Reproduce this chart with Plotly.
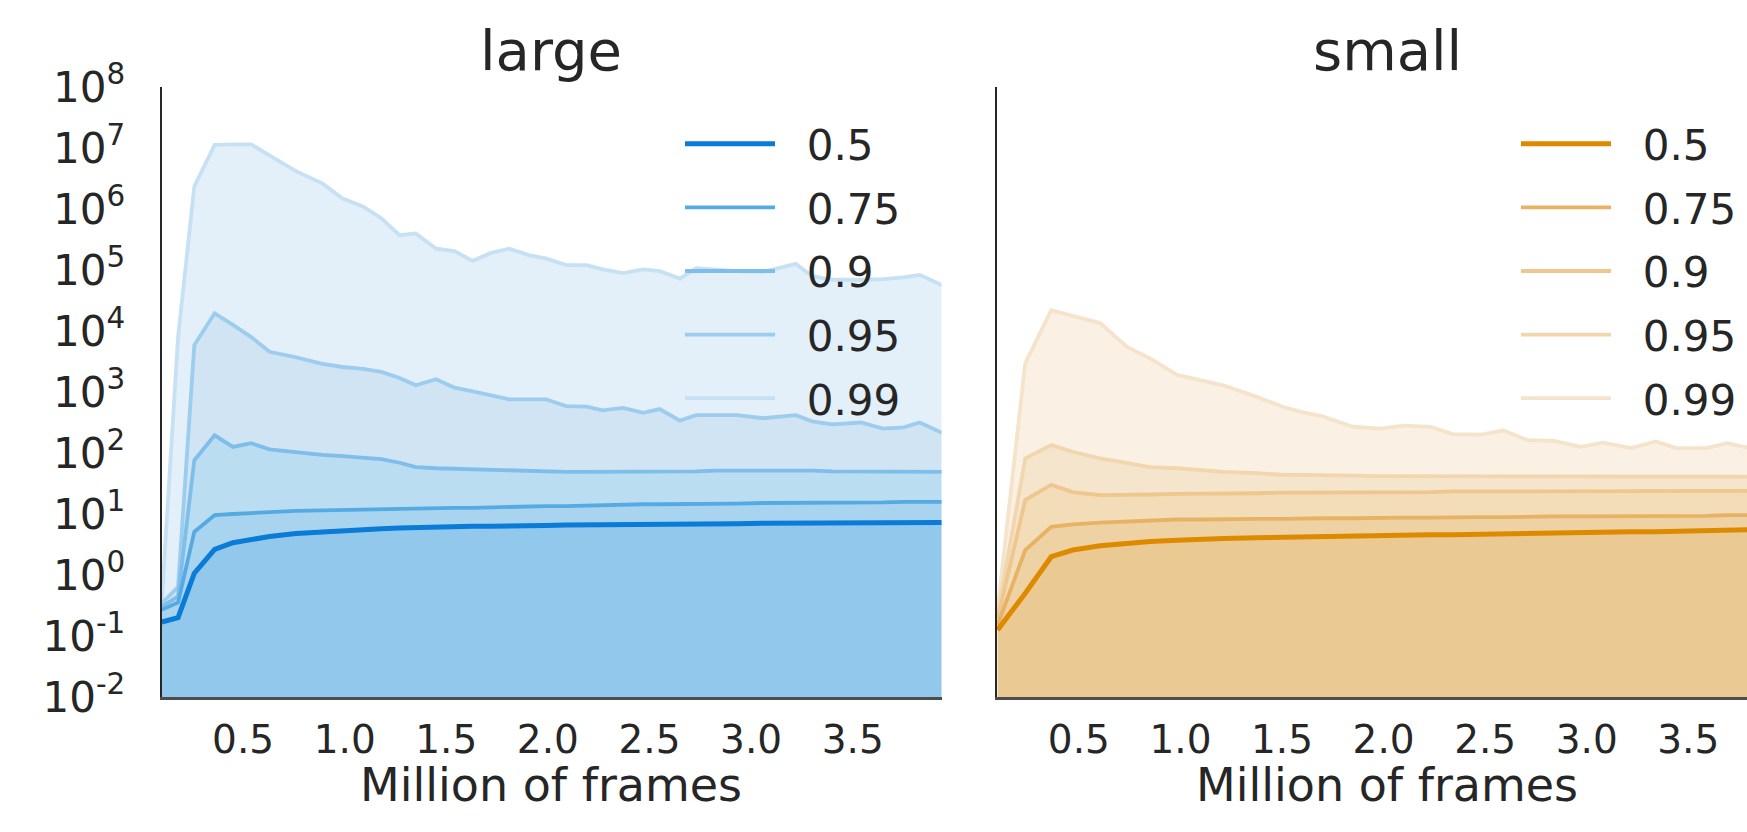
import plotly.graph_objects as go

# ---------------- data (log10 of the quantile values) ----------------
quantiles = ["0.5", "0.75", "0.9", "0.95", "0.99"]
panel_titles = ["large", "small"]
x_title = "Million of frames"
x_ticks = [0.5, 1.0, 1.5, 2.0, 2.5, 3.0, 3.5]
x_ticklabels = ["0.5", "1.0", "1.5", "2.0", "2.5", "3.0", "3.5"]
y_tickvals = [1e-2, 1e-1, 1e0, 1e1, 1e2, 1e3, 1e4, 1e5, 1e6, 1e7, 1e8]
y_ticklabels = ["10<sup>-2</sup>", "10<sup>-1</sup>", "10<sup>0</sup>", "10<sup>1</sup>",
                "10<sup>2</sup>", "10<sup>3</sup>", "10<sup>4</sup>", "10<sup>5</sup>",
                "10<sup>6</sup>", "10<sup>7</sup>", "10<sup>8</sup>"]

large_x = [0.1, 0.18, 0.26, 0.36, 0.45, 0.54, 0.63, 0.76, 0.89, 0.99, 1.09, 1.18,
           1.27, 1.35, 1.45, 1.54, 1.63, 1.72, 1.81, 1.91, 1.99, 2.09, 2.19, 2.27,
           2.37, 2.47, 2.55, 2.65, 2.73, 2.83, 2.93, 3.06, 3.16, 3.22, 3.30, 3.40,
           3.54, 3.65, 3.75, 3.83, 3.94]
large_q99 = [-0.42, 3.9, 6.37, 7.05, 7.06, 7.06, 6.88, 6.62, 6.42, 6.17, 6.04, 5.85,
             5.57, 5.60, 5.35, 5.31, 5.15, 5.28, 5.35, 5.24, 5.19, 5.08, 5.08, 5.01,
             4.95, 5.01, 4.98, 4.86, 5.03, 5.00, 4.98, 4.97, 5.05, 5.10, 4.90, 4.84,
             4.84, 4.85, 4.88, 4.92, 4.75]
large_q95 = [-0.46, -0.2, 3.77, 4.29, 4.10, 3.90, 3.66, 3.57, 3.46, 3.41, 3.38, 3.33,
             3.23, 3.11, 3.21, 3.07, 3.01, 2.95, 2.88, 2.88, 2.88, 2.77, 2.76, 2.70,
             2.74, 2.66, 2.72, 2.53, 2.62, 2.62, 2.62, 2.57, 2.60, 2.62, 2.52, 2.47,
             2.50, 2.40, 2.42, 2.50, 2.33]
large_q90 = [-0.52, -0.35, 1.88, 2.29, 2.10, 2.16, 2.06, 2.01, 1.97, 1.95, 1.93, 1.90,
             1.84, 1.77, 1.75, 1.74, 1.73, 1.72, 1.71, 1.70, 1.69, 1.69, 1.69, 1.69,
             1.69, 1.69, 1.69, 1.70, 1.70, 1.71, 1.71, 1.72, 1.72, 1.71, 1.71, 1.70,
             1.70, 1.70, 1.70, 1.70, 1.69]
large_q75 = [-0.57, -0.45, 0.71, 0.98, 1.00, 1.02, 1.03, 1.05, 1.06, 1.07, 1.07, 1.08,
             1.08, 1.09, 1.09, 1.10, 1.10, 1.11, 1.11, 1.12, 1.13, 1.13, 1.14, 1.14,
             1.15, 1.16, 1.16, 1.16, 1.17, 1.17, 1.17, 1.18, 1.18, 1.18, 1.19, 1.19,
             1.19, 1.19, 1.20, 1.20, 1.20]
large_q50 = [-0.77, -0.70, 0.03, 0.42, 0.53, 0.59, 0.63, 0.68, 0.71, 0.73, 0.75, 0.76,
             0.77, 0.78, 0.79, 0.79, 0.80, 0.80, 0.81, 0.81, 0.81, 0.82, 0.82, 0.82,
             0.83, 0.83, 0.83, 0.84, 0.84, 0.84, 0.84, 0.85, 0.85, 0.85, 0.85, 0.85,
             0.86, 0.86, 0.86, 0.86, 0.86]

small_x = [0.1, 0.236, 0.364, 0.47, 0.605, 0.737, 0.851, 0.983, 1.10, 1.21, 1.376,
           1.51, 1.60, 1.70, 1.85, 1.98, 2.10, 2.23, 2.34, 2.48, 2.59, 2.71, 2.84,
           2.97, 3.08, 3.22, 3.34, 3.44, 3.59, 3.69, 3.79, 3.94]
small_q99 = [-0.57, 3.47, 4.34, 4.25, 4.13, 3.74, 3.55, 3.28, 3.20, 3.11, 2.92,
             2.75, 2.67, 2.60, 2.43, 2.40, 2.45, 2.43, 2.31, 2.30, 2.37, 2.21, 2.20,
             2.10, 2.17, 2.08, 2.19, 2.08, 2.08, 2.16, 2.09, 2.05]
small_q95 = [-0.65, 1.91, 2.13, 2.02, 1.91, 1.84, 1.77, 1.75, 1.72, 1.69, 1.67,
             1.64, 1.64, 1.63, 1.63, 1.62, 1.62, 1.62, 1.62, 1.61, 1.61, 1.61, 1.61,
             1.61, 1.61, 1.61, 1.61, 1.61, 1.61, 1.61, 1.61, 1.61]
small_q90 = [-0.72, 1.23, 1.48, 1.36, 1.31, 1.31, 1.32, 1.33, 1.33, 1.34, 1.34,
             1.35, 1.35, 1.35, 1.36, 1.36, 1.36, 1.36, 1.37, 1.37, 1.37, 1.37, 1.37,
             1.38, 1.38, 1.38, 1.38, 1.38, 1.38, 1.38, 1.38, 1.38]
small_q75 = [-0.82, 0.41, 0.79, 0.83, 0.86, 0.88, 0.90, 0.91, 0.91, 0.92, 0.92,
             0.92, 0.93, 0.93, 0.93, 0.94, 0.94, 0.94, 0.95, 0.95, 0.95, 0.96, 0.96,
             0.96, 0.96, 0.97, 0.97, 0.97, 0.97, 0.98, 0.98, 0.98]
small_q50 = [-0.90, -0.30, 0.30, 0.41, 0.48, 0.52, 0.55, 0.57, 0.59, 0.60, 0.61,
             0.62, 0.63, 0.64, 0.64, 0.65, 0.65, 0.66, 0.66, 0.67, 0.67, 0.68, 0.69,
             0.70, 0.70, 0.71, 0.71, 0.72, 0.72, 0.73, 0.74, 0.74]

# ---------------- styles ----------------
blue_lines = ["#0A7BD6", "#56AAE4", "#7FBEEA", "#9CCDEE", "#C6E1F4"]
blue_fills = ["#92C8EB", "#A9D4EF", "#BADDF2", "#D0E4F4", "#E3EFF9"]
orange_lines = ["#DE8A00", "#E8B264", "#EDC78D", "#F1D6AE", "#F5E3CC"]
orange_fills = ["#EBC992", "#EFD2A3", "#F3DCB8", "#F6E5CD", "#FAF0E3"]
line_widths = [5, 3.8, 3.8, 3.8, 3.8]

TEXT = "#262626"
FONT = "DejaVu Sans"
W, H = 1747, 832
PAD = "\u00a0\u00a0"

panels = [
    dict(x=large_x, qs=[large_q50, large_q75, large_q90, large_q95, large_q99],
         lines=blue_lines, fills=blue_fills, xa="x", ya="y", legend="legend"),
    dict(x=small_x, qs=[small_q50, small_q75, small_q90, small_q95, small_q99],
         lines=orange_lines, fills=orange_fills, xa="x2", ya="y2", legend="legend2"),
]

fig = go.Figure()
for pi, p in enumerate(panels):
    xs = p["x"]
    # baseline below the visible range so that fills reach the bottom
    fig.add_trace(go.Scatter(x=xs, y=[1e-3] * len(xs), mode="lines",
                             line=dict(width=0), showlegend=False, hoverinfo="skip",
                             xaxis=p["xa"], yaxis=p["ya"]))
    for qi, q in enumerate(p["qs"]):
        fig.add_trace(go.Scatter(x=xs, y=[10 ** v for v in q], mode="lines",
                                 line=dict(width=0, color=p["fills"][qi]),
                                 fill="tonexty", fillcolor=p["fills"][qi],
                                 showlegend=False, hoverinfo="skip",
                                 xaxis=p["xa"], yaxis=p["ya"]))
    for qi in range(len(quantiles) - 1, -1, -1):
        q = p["qs"][qi]
        fig.add_trace(go.Scatter(x=xs, y=[10 ** v for v in q], mode="lines",
                                 name=PAD + quantiles[qi],
                                 line=dict(width=line_widths[qi], color=p["lines"][qi]),
                                 legend=p["legend"], legendrank=qi + 1,
                                 legendgroup=f"p{pi}q{qi}",
                                 xaxis=p["xa"], yaxis=p["ya"]))

# geometry (pixels)
left_dom = [161.6 / W, 941.5 / W]
right_dom = [997.0 / W, 1.0]
y_dom = [1 - 697.0 / H, 1 - 87.0 / H]

xaxis_common = dict(showgrid=False, zeroline=False, ticks="", showline=True,
                    linecolor="#4d4d4d", linewidth=3, tickvals=x_ticks,
                    ticktext=x_ticklabels, tickfont=dict(size=39, color=TEXT, family=FONT),
                    ticklabelstandoff=6, automargin=False)
yaxis_common = dict(type="log", range=[-2, 8], showgrid=False, zeroline=False, ticks="",
                    showline=True, linecolor="#262626", linewidth=2, domain=y_dom,
                    automargin=False)

legend_common = dict(y=1 - 110 / H, xanchor="left", yanchor="top",
                     bgcolor="rgba(0,0,0,0)", font=dict(size=42, color=TEXT, family=FONT),
                     itemwidth=90, tracegroupgap=6, traceorder="grouped")

fig.update_layout(
    width=W, height=H,
    margin=dict(l=0, r=0, t=0, b=0),
    paper_bgcolor="white", plot_bgcolor="white",
    font=dict(family=FONT, color=TEXT),
    xaxis=dict(domain=left_dom, range=[0.099, 3.937], anchor="y", **xaxis_common),
    xaxis2=dict(domain=right_dom, range=[0.097, 3.789], anchor="y2", **xaxis_common),
    yaxis=dict(anchor="x", tickvals=y_tickvals, ticktext=y_ticklabels,
               tickfont=dict(size=42, color=TEXT, family=FONT),
               ticklabelstandoff=26, **yaxis_common),
    yaxis2=dict(anchor="x2", showticklabels=False, **yaxis_common),
    legend=dict(x=680 / W, **legend_common),
    legend2=dict(x=1516 / W, **legend_common),
    showlegend=True,
)

for cx, t in zip([551, 1387], panel_titles):
    fig.add_annotation(xref="paper", yref="paper", x=cx / W, y=1 - 50 / H,
                       xanchor="center", yanchor="middle", showarrow=False, text=t,
                       font=dict(size=56, color=TEXT, family=FONT))
for cx in [551, 1387]:
    fig.add_annotation(xref="paper", yref="paper", x=cx / W, y=1 - 785 / H,
                       xanchor="center", yanchor="middle", showarrow=False,
                       text=x_title, font=dict(size=46, color=TEXT, family=FONT))

fig.write_html("out.html", config={"displayModeBar": False},
               post_script="document.body.style.margin='0';document.body.style.overflow='hidden';")
